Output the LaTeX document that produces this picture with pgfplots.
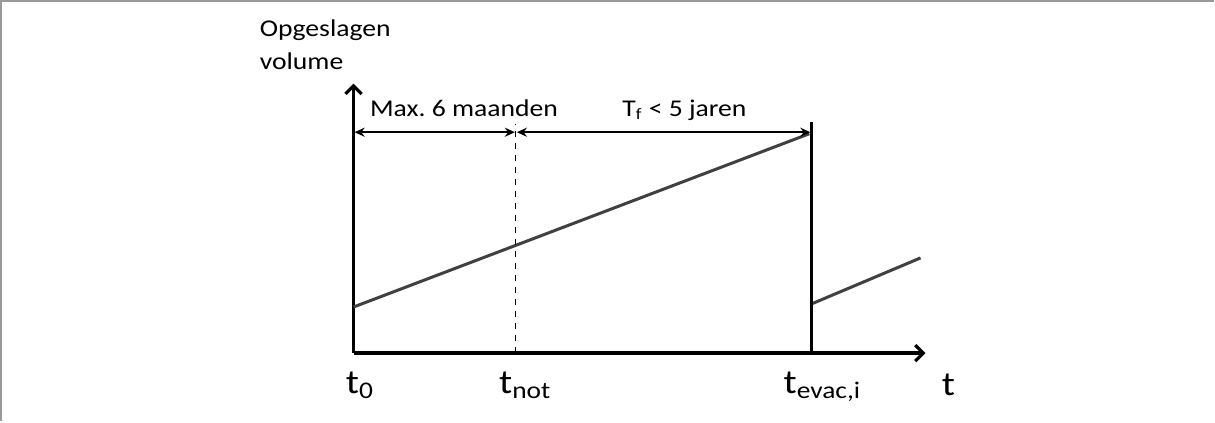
\documentclass[border=0pt]{standalone}
\usepackage{fontspec}
\setmainfont{Carlito}[FakeStretch=1.15]
\usepackage{pgfplots}
\pgfplotsset{compat=1.18}
\usetikzlibrary{arrows.meta}
\frenchspacing

\begin{document}
\begin{tikzpicture}
\begin{axis}[
    width=607.5pt, height=210.5pt, scale only axis,
    xmin=0, xmax=1215, ymin=0, ymax=421,
    hide axis, clip=false,
  ]
  % frame of the figure
  \addplot[gray!80, line width=1pt] coordinates {(4,0) (4,419.5) (1215,419.5)};
  % axes
  \addplot[black, line width=1.6pt, -{Straight Barb[length=4pt,width=8pt]}] coordinates {(356,68) (927,68)};
  \addplot[black, line width=1.6pt, -{Straight Barb[length=4pt,width=8pt]}] coordinates {(356,68) (356,337)};
  % stored volume
  \addplot[black!75, line width=1.5pt] coordinates {(356,114) (811,287)};
  \addplot[black!75, line width=1.5pt] coordinates {(813,117) (922,163)};
  % evacuation and notification
  \addplot[black, line width=1.6pt] coordinates {(813,68) (813,299)};
  \addplot[black, line width=0.5pt, dashed] coordinates {(518,68) (518,297)};
  % periods
  \addplot[black, line width=1.1pt, {Stealth[length=5pt,width=4.5pt]}-{Stealth[length=5pt,width=4.5pt]}] coordinates {(357,288.5) (517,288.5)};
  \addplot[black, line width=1.1pt, {Stealth[length=5pt,width=4.5pt]}-{Stealth[length=5pt,width=4.5pt]}] coordinates {(519,288.5) (812,288.5)};

  \node[anchor=base west, font=\fontsize{12}{14}\selectfont, inner sep=0pt] at (372,304.5) {Max. 6 maanden};
  \node[anchor=base west, font=\fontsize{12}{14}\selectfont, inner sep=0pt] at (624,304.5) {T\textsubscript{f} < 5 jaren};
  \node[anchor=base west, font=\fontsize{12}{14}\selectfont, inner sep=0pt] at (262,384) {Opgeslagen};
  \node[anchor=base west, font=\fontsize{12}{14}\selectfont, inner sep=0pt] at (262,351) {volume};

  \node[anchor=base west, font=\fontsize{17}{20}\selectfont, inner sep=0pt] at (348,28) {t\textsubscript{0}};
  \node[anchor=base west, font=\fontsize{17}{20}\selectfont, inner sep=0pt] at (501,28) {t\textsubscript{not}};
  \node[anchor=base west, font=\fontsize{17}{20}\selectfont, inner sep=0pt] at (785,28) {t\textsubscript{evac,i}};
  \node[anchor=base west, font=\fontsize{17}{20}\selectfont, inner sep=0pt] at (943,26) {t};
\end{axis}
\end{tikzpicture}
\end{document}
